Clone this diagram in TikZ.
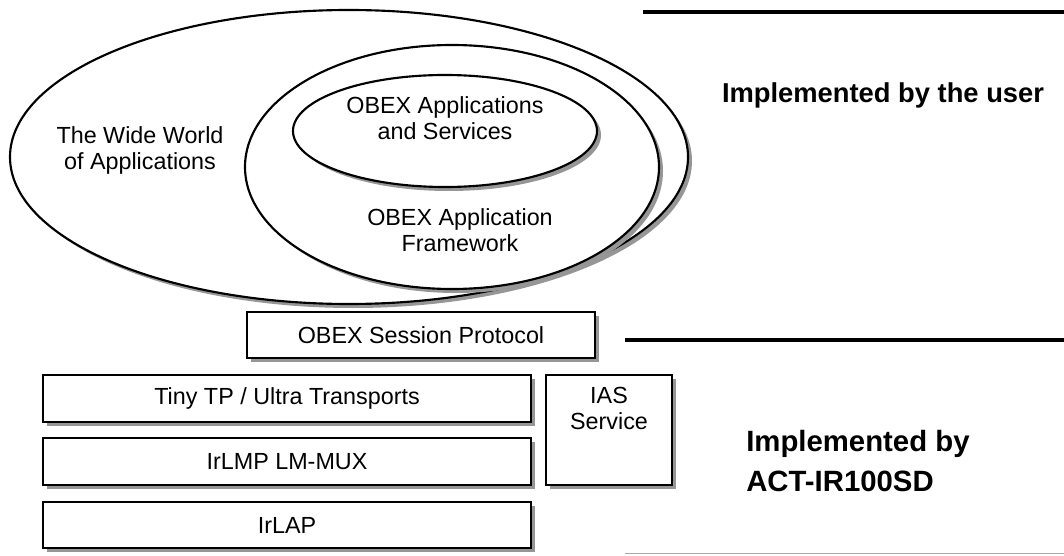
\documentclass[tikz,border=0pt]{standalone}
\usepackage{fontspec}
\setmainfont{Liberation Sans}
\usepackage{xcolor}
\usepackage{tikz}
\usetikzlibrary{shadows}

\begin{document}
\begin{tikzpicture}[x=0.75pt,y=0.75pt,yscale=-1,xscale=1,
		ring/.style={line width=1.6pt, fill=white, drop shadow={shadow xshift=3pt, shadow yshift=-3pt, fill={rgb, 255:red, 150; green, 150; blue, 150 }, opacity=1}},
		layer/.style={draw, line width=2pt, fill=white, inner sep=0pt, drop shadow={shadow xshift=3pt, shadow yshift=-3pt, fill={rgb, 255:red, 150; green, 150; blue, 150 }, opacity=1}},
		lbl/.style={font=\fontsize{17.5}{19.5}\selectfont, align=center, inner sep=0.75pt},
		big/.style={font=\bfseries\fontsize{20.5}{30}\selectfont, align=left, inner sep=0.75pt}]
			%set diagram to 1064 x 556
			\path [use as bounding box] (0,0) rectangle (1064,556);
			
			%Ellipse [id:outer] 
			\draw [ring] (349,157) ellipse (339 and 147);
			%Ellipse [id:middle] 
			\draw [ring] (452,167) ellipse (207 and 122);
			%Ellipse [id:inner] 
			\draw [ring] (445,131) ellipse (152 and 56);
			
			%Shape: Rectangle [id:session] 
			\draw (421,335) node (sess) [layer, minimum width=261pt, minimum height=34.5pt] [lbl] {OBEX Session Protocol};
			%Shape: Rectangle [id:tinytp] 
			\draw (287,398.5) node (tinytp) [layer, minimum width=366pt, minimum height=35.25pt] [lbl] {Tiny TP / Ultra Transports};
			%Shape: Rectangle [id:lmmux] 
			\draw (287,461.5) node (lmmux) [layer, minimum width=366pt, minimum height=35.25pt] [lbl] {IrLMP LM-MUX};
			%Shape: Rectangle [id:irlap] 
			\draw (287,525) node (irlap) [layer, minimum width=366pt, minimum height=34.5pt] [lbl] {IrLAP};
			%Shape: Rectangle [id:ias] 
			\draw (609,430) node (ias) [layer, minimum width=94.5pt, minimum height=82.5pt] {};
			
			%Straight Lines [id:top] 
			\draw [line width=3pt]   (643,12) -- (1064,12) ;
			%Straight Lines [id:mid] 
			\draw [line width=3pt]   (625,340) -- (1064,340) ;
			%Straight Lines [id:bottom] 
			\draw [line width=0.75pt, color={rgb, 255:red, 170; green, 170; blue, 170 }]   (625,553) -- (1064,553) ;
			
			% Text Node
			\draw (140,150) node (world) [lbl] {The Wide World\\of Applications};
			% Text Node
			\draw (445,118) node (apps) [lbl] {OBEX Applications\\and Services};
			% Text Node
			\draw (460,230) node (frame) [lbl] {OBEX Application\\Framework};
			% Text Node
			\draw (609,408) node (iastext) [lbl] {IAS\\Service};
			% Text Node
			\draw (883,95) node (user) [big] {Implemented by the user};
			% Text Node
			\draw (745,461) node (actir) [big, anchor=west, font=\bfseries\fontsize{22}{30}\selectfont] {Implemented by\\ACT-IR100SD};
			
\end{tikzpicture}
\end{document}
